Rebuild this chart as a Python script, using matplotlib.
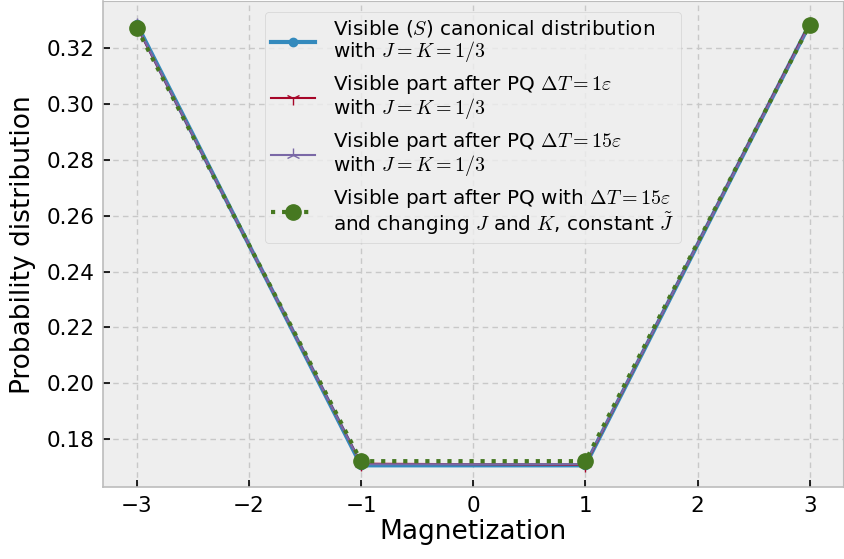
import matplotlib
matplotlib.use("Agg")
import matplotlib.pyplot as plt

plt.style.use("bmh")
plt.rcParams["mathtext.fontset"] = "cm"

magnetization = [-3, -1, 1, 3]
canonical = [0.3287, 0.1706, 0.1706, 0.3287]
pq_1eps = [0.3280, 0.1712, 0.1708, 0.3290]
pq_15eps = [0.3283, 0.1710, 0.1710, 0.3286]
pq_changing = [0.3273, 0.1721, 0.1721, 0.3285]

labels = [
    "Visible ($S$) canonical distribution\nwith $J=K=1/3$",
    "Visible part after PQ $\\Delta T=1\\varepsilon$\nwith $J=K=1/3$",
    "Visible part after PQ $\\Delta T=15\\varepsilon$\nwith $J=K=1/3$",
    "Visible part after PQ with $\\Delta T=15\\varepsilon$\nand changing $J$ and $K$, constant $\\tilde{J}$",
]

fig = plt.figure(figsize=(8.45, 5.59), dpi=100)
ax = fig.add_axes([0.122, 0.128, 0.876, 0.870])
ax.plot(magnetization, canonical, color="#348ABD", lw=3, marker="o", ms=6, label=labels[0])
ax.plot(magnetization, pq_1eps, color="#A60628", lw=1.5, marker="1", ms=10, label=labels[1])
ax.plot(magnetization, pq_15eps, color="#7A68A6", lw=1.5, marker="2", ms=10, label=labels[2])
ax.plot(magnetization, pq_changing, color="#467821", lw=3, ls=":", marker="o", ms=11, label=labels[3])

ax.grid(True, color="#c8c8c8", ls=(0, (4, 3)), lw=1)
for s in ("left", "bottom"):
    ax.spines[s].set_color("#bcbcbc")
    ax.spines[s].set_linewidth(1.2)
ax.tick_params(direction="in", length=5, width=1.2, color="black", labelsize=15.5, pad=6)

ax.set_xlabel("Magnetization", fontsize=19, labelpad=2)
ax.set_ylabel("Probability distribution", fontsize=19, labelpad=8)
ax.set_yticks([0.18, 0.20, 0.22, 0.24, 0.26, 0.28, 0.30, 0.32])
leg = ax.legend(loc="upper center", fontsize=14.4, framealpha=0.8, borderaxespad=0.55,
                labelspacing=0.45, borderpad=0.3, handlelength=2.2, handletextpad=0.9)
for t in leg.get_texts():
    t.set_linespacing(1.0)

fig.savefig("out.png", dpi=100)
